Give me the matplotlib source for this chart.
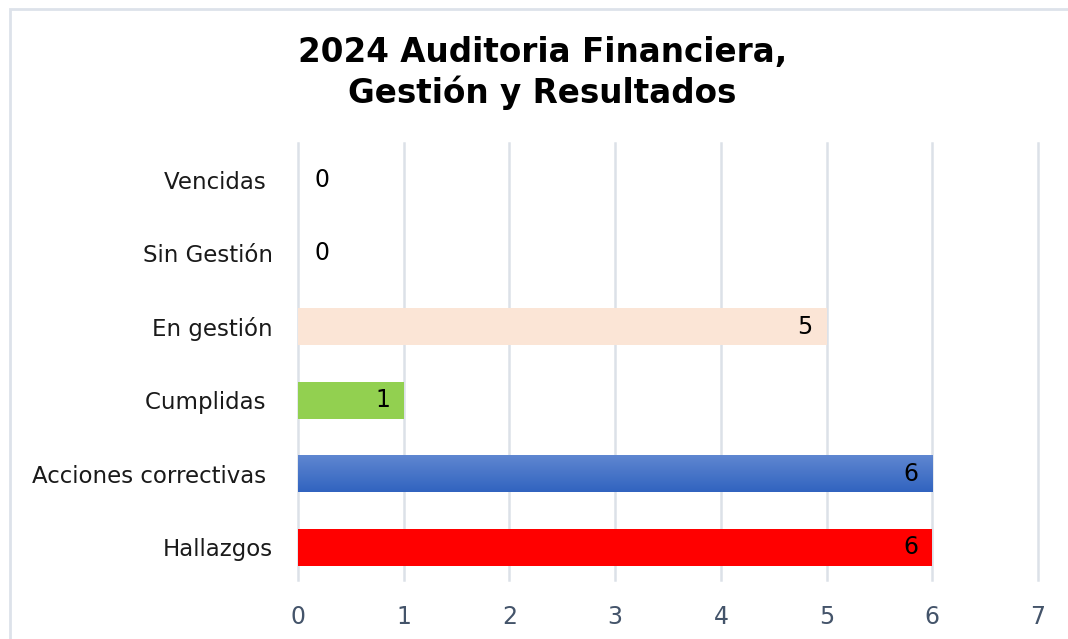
import numpy as np
import matplotlib
matplotlib.use('Agg')
from matplotlib import pyplot as plt
from matplotlib.patches import Rectangle
from matplotlib.colors import LinearSegmentedColormap

# datos del grafico (de abajo hacia arriba)
categorias = ['Hallazgos', 'Acciones correctivas ', 'Cumplidas ', 'En gestión', 'Sin Gestión', 'Vencidas ']
valores = [6, 6, 1, 5, 0, 0]
colores = ['#FF0000', '#4472C4', '#92D050', '#FBE5D6', '#FBE5D6', '#FBE5D6']
ticks_x = [0, 1, 2, 3, 4, 5, 6, 7]

plt.rcParams['font.family'] = ['DejaVu Sans']

fig = plt.figure(figsize=(10.68, 6.39), dpi=100)
ax = fig.add_axes([0.279, 0.092, 0.693, 0.684])

# marco del grafico (solo se ve arriba e izquierda)
fig.patches.append(Rectangle((10 / 1068, -0.1), 1.2, 1 - 9 / 639 + 0.1, transform=fig.transFigure,
                             fill=False, edgecolor='#DDE2EA', linewidth=2, zorder=0))

pos = np.arange(len(categorias))
barras = ax.barh(pos, valores, height=0.5, color=colores, zorder=2)

# degradado de la barra azul
grad = LinearSegmentedColormap.from_list('azul', ['#3163BF', '#5F87D1'])
b = barras[1]
img = ax.imshow(np.linspace(0, 1, 100).reshape(-1, 1), cmap=grad, aspect='auto', origin='lower',
                extent=(b.get_x(), b.get_x() + b.get_width(), b.get_y(), b.get_y() + b.get_height()),
                zorder=3)
img.set_clip_path(b)

# etiquetas de valor
for p, v in zip(pos, valores):
    if v > 0:
        ax.annotate(str(v), (v, p), xytext=(-10, 0), textcoords='offset points',
                    ha='right', va='center', fontsize=17, color='black', zorder=4)
    else:
        ax.annotate(str(v), (0, p), xytext=(12, 0), textcoords='offset points',
                    ha='left', va='center', fontsize=17, color='black', zorder=4)

ax.set_xlim(0, 7)
ax.set_ylim(-0.45, 5.5)
ax.set_xticks(ticks_x)
ax.set_yticks(pos)
ax.set_yticklabels(categorias)
ax.grid(axis='x', color='#DCE1E8', linewidth=1.8, zorder=0)
for gl in ax.get_xgridlines():
    gl.set_clip_on(False)
ax.set_axisbelow(True)
for s in ax.spines.values():
    s.set_visible(False)
ax.tick_params(axis='x', length=0, pad=18, labelsize=17, labelcolor='#44546A')
ax.tick_params(axis='y', length=0, pad=18, labelsize=16.5, labelcolor='#1a1a1a')

fig.text(0.508, 0.886, '2024 Auditoria Financiera,\nGestión y Resultados', ha='center', va='center',
         fontsize=23.5, fontweight='bold', linespacing=1.25)

fig.savefig('out.png', dpi=100)
